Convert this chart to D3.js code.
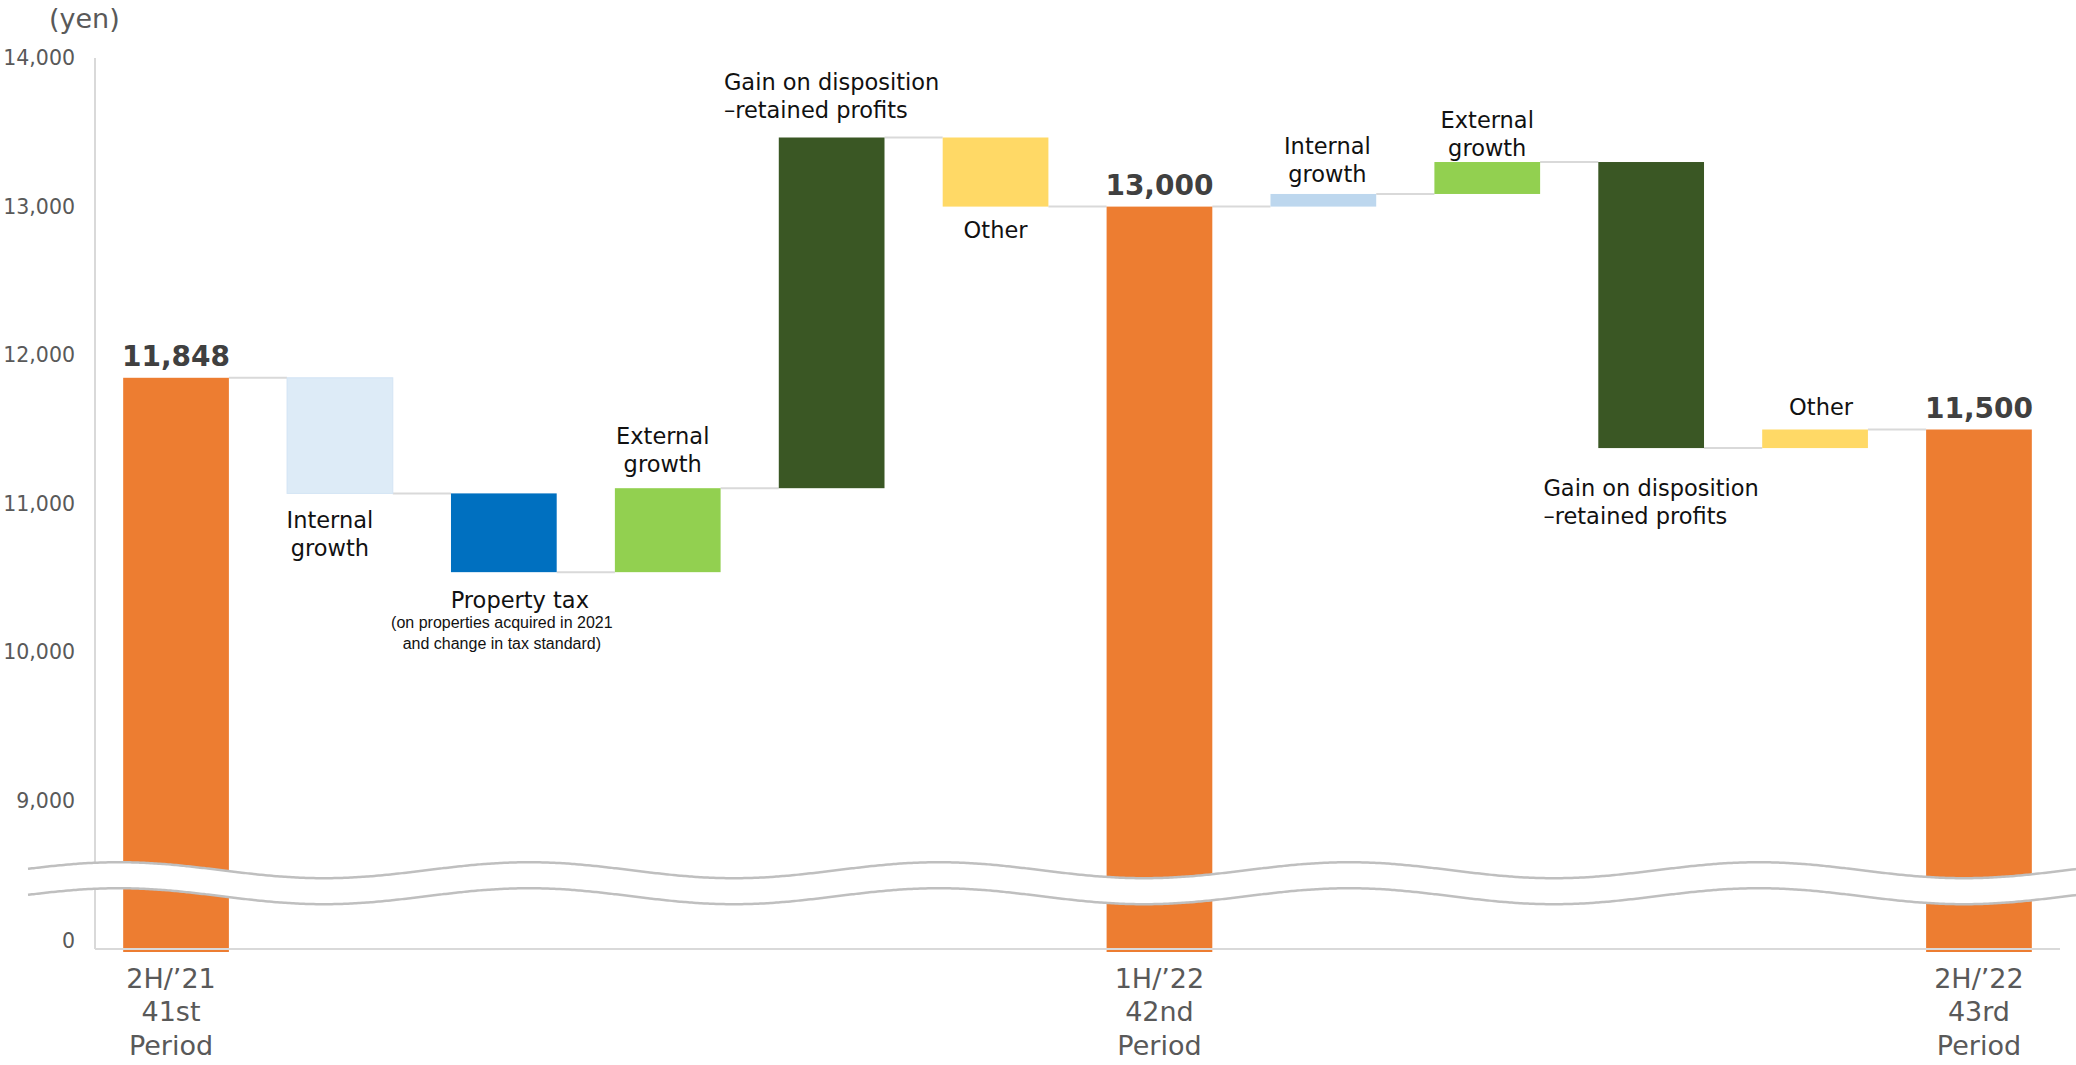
<!DOCTYPE html>
<html>
<head>
<meta charset="utf-8">
<script src="https://cdn.jsdelivr.net/npm/d3@7"></script>
<style>
  body { margin: 0; background: #fff; }
  svg { display: block; }
</style>
</head>
<body>
<script>
// waterfall steps (in yen)
const stepNames = ["2H/’21", "Internal growth", "Property tax", "External growth", "Gain on disposition", "Other",
                   "1H/’22", "Internal growth", "External growth", "Gain on disposition", "Other", "2H/’22"];
const stepKinds = ["total", "delta", "delta", "delta", "delta", "delta",
                   "total", "delta", "delta", "delta", "delta", "total"];
const stepValues = [11848, -778, -530, 565, 2360, -465, 13000, 85, 215, -1925, 125, 11500];

// text shown with the bars
const periodLabels = { 0: ["2H/’21", "41st", "Period"], 6: ["1H/’22", "42nd", "Period"], 11: ["2H/’22", "43rd", "Period"] };
const stepLabels = [null, ["Internal", "growth"], ["Property tax"], ["External", "growth"],
                    ["Gain on disposition", "–retained profits"], ["Other"], null,
                    ["Internal", "growth"], ["External", "growth"],
                    ["Gain on disposition", "–retained profits"], ["Other"], null];
const taxNote = ["(on properties acquired in 2021", "and change in tax standard)"];
const yTicks = [0, 9000, 10000, 11000, 12000, 13000, 14000];

// styling
const barColors = ["#ED7D31", "#DDEBF7", "#0070C0", "#92D050", "#3A5724", "#FFD966",
                   "#ED7D31", "#BDD7EE", "#92D050", "#3A5724", "#FFD966", "#ED7D31"];
// label offset from bar edge: + below the bottom, - above the top
const labelGap = [0, 27, 28, -24, -28, 23, 0, -20, -14, 40, -23, 0];
// horizontal nudge of labels from the bar centre
const labelDx = [0, -10, 16, -5, 0, 0, 0, 4, 0, 0, 6, 0];

const width = 2076, height = 1065;

const svg = d3.select('body')
  .append('svg')
  .attr('width', width)
  .attr('height', height);

// running totals for the waterfall
let running = 0;
const bars = stepValues.map((v, i) => {
  if (stepKinds[i] === 'total') {
    running = v;
    return { i, from: 0, to: v };
  }
  const start = running;
  running += v;
  return { i, from: start, to: running };
});

const x = d3.scaleBand()
  .domain(d3.range(stepNames.length))
  .range([94, 2061])
  .paddingInner(0.355)
  .paddingOuter(0.178);

// broken axis: 0..9000 squeezed below the break
const y = d3.scaleLinear()
  .domain([0, 9000, 14000])
  .range([949, 801, 58]);

const font = 'DejaVu Sans, Verdana, sans-serif';

// y axis
const axis = svg.append('g')
  .attr('transform', 'translate(95,0)')
  .call(d3.axisLeft(y).tickValues(yTicks).tickSize(0).tickPadding(20).tickFormat(d3.format(',')));
axis.select('.domain').remove();
axis.selectAll('text')
  .attr('font-family', font)
  .attr('font-size', 20.5)
  .attr('fill', '#595959')
  .attr('dy', d => d === 0 ? '-0.05em' : '0.32em');

svg.append('line')
  .attr('x1', 95).attr('x2', 95)
  .attr('y1', y(14000)).attr('y2', y(0))
  .attr('stroke', '#D9D9D9').attr('stroke-width', 2);

svg.append('text')
  .attr('x', 49).attr('y', 18)
  .attr('dominant-baseline', 'central')
  .attr('font-family', font).attr('font-size', 27)
  .attr('fill', '#595959')
  .text('(yen)');

// connectors between bars
svg.append('g')
  .selectAll('line')
  .data(bars.slice(0, -1))
  .enter()
  .append('line')
  .attr('x1', d => x(d.i) + x.bandwidth())
  .attr('x2', d => x(d.i + 1))
  .attr('y1', d => y(d.to))
  .attr('y2', d => y(d.to))
  .attr('stroke', '#D9D9D9')
  .attr('stroke-width', 2);

// bars
svg.append('g')
  .selectAll('rect')
  .data(bars)
  .enter()
  .append('rect')
  .attr('x', d => x(d.i))
  .attr('width', x.bandwidth())
  .attr('y', d => y(Math.max(d.from, d.to)))
  .attr('height', d => Math.abs(y(d.from) - y(d.to)) + (stepKinds[d.i] === 'total' ? 3 : 0))
  .attr('fill', d => barColors[d.i])
  .attr('stroke', d => d.i === 1 ? '#D3E4F4' : 'none')
  .attr('stroke-width', 1);

// baseline
svg.append('line')
  .attr('x1', 95).attr('x2', 2060)
  .attr('y1', y(0)).attr('y2', y(0))
  .attr('stroke', '#D9D9D9').attr('stroke-width', 2);

// axis break: white band between two wavy lines
const breakY = y(4000);
const wave = xx => breakY - 13 - 8 * Math.cos(2 * Math.PI * (xx - 119) / 410);
const xs = d3.range(28, 2077, 4);
const upper = xs.map(xx => [xx, wave(xx)]);
const lower = xs.map(xx => [xx, wave(xx) + 26]);
const line = d3.line().curve(d3.curveBasis);
svg.append('path')
  .attr('d', line(upper) + 'L' + lower.slice().reverse().map(p => p.join(',')).join('L') + 'Z')
  .attr('fill', '#fff');
[upper, lower].forEach(pts => {
  svg.append('path')
    .attr('d', line(pts))
    .attr('fill', 'none')
    .attr('stroke', '#BFBFBF')
    .attr('stroke-width', 2.5);
});

// totals: value on top, period under the axis
bars.filter(d => stepKinds[d.i] === 'total').forEach(d => {
  const cx = x(d.i) + x.bandwidth() / 2;
  svg.append('text')
    .attr('x', cx).attr('y', y(d.to) - 12)
    .attr('text-anchor', 'middle')
    .attr('font-family', font).attr('font-weight', 'bold').attr('font-size', 28)
    .attr('fill', '#404040')
    .text(d3.format(',')(d.to));
  periodLabels[d.i].forEach((t, k) => {
    svg.append('text')
      .attr('x', cx - (d.i === 0 ? 5 : 0)).attr('y', 978 + k * 33.5)
      .attr('dominant-baseline', 'central')
      .attr('text-anchor', 'middle')
      .attr('font-family', font).attr('font-size', 27)
      .attr('fill', '#595959')
      .text(t);
  });
});

// step labels
bars.filter(d => stepLabels[d.i]).forEach(d => {
  const lines = stepLabels[d.i];
  const cx = x(d.i) + x.bandwidth() / 2 + labelDx[d.i];
  const gap = labelGap[d.i];
  const top = y(Math.max(d.from, d.to)), bottom = y(Math.min(d.from, d.to));
  const firstY = gap > 0 ? bottom + gap : top + gap - (lines.length - 1) * 28;
  const leftAligned = stepNames[d.i] === 'Gain on disposition';
  const g = svg.append('g');
  const texts = lines.map((t, k) => g.append('text')
    .attr('x', cx).attr('y', firstY + k * 28)
    .attr('dominant-baseline', 'central')
    .attr('text-anchor', leftAligned ? 'start' : 'middle')
    .attr('font-family', font).attr('font-size', 22.5)
    .attr('fill', '#111')
    .text(t));
  if (leftAligned) {
    const w = d3.max(texts, t => t.node().getComputedTextLength());
    texts.forEach(t => t.attr('x', cx - w / 2));
  }
  if (stepNames[d.i] === 'Property tax') {
    taxNote.forEach((t, k) => {
      g.append('text')
        .attr('x', cx - 18).attr('y', firstY + 22 + k * 21)
        .attr('dominant-baseline', 'central')
        .attr('text-anchor', 'middle')
        .attr('font-family', 'Liberation Sans, Arial, sans-serif').attr('font-size', 16)
        .attr('fill', '#111')
        .text(t);
    });
  }
});
</script>
</body>
</html>
